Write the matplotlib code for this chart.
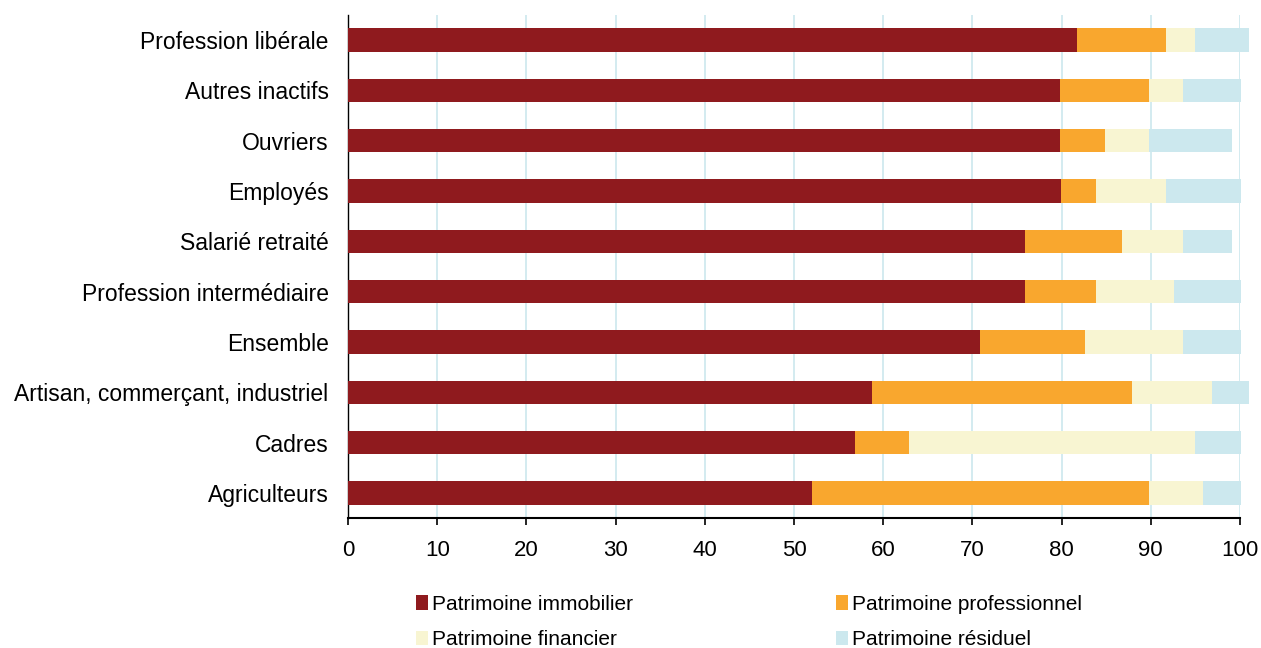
import matplotlib
matplotlib.use("Agg")
import matplotlib.pyplot as plt
import numpy as np

categories = ["Profession libérale", "Autres inactifs", "Ouvriers", "Employés",
              "Salarié retraité", "Profession intermédiaire", "Ensemble",
              "Artisan, commerçant, industriel", "Cadres", "Agriculteurs"]
immobilier = [81.7, 79.8, 79.8, 79.9, 75.9, 75.9, 70.8, 58.8, 56.8, 52.0]
professionnel = [10.0, 10.0, 5.1, 4.0, 10.9, 8.0, 11.8, 29.1, 6.1, 37.8]
financier = [3.2, 3.8, 4.9, 7.8, 6.8, 8.7, 11.0, 9.0, 32.0, 6.1]
residuel = [6.1, 6.5, 9.3, 8.4, 5.5, 7.5, 6.5, 4.1, 5.2, 4.2]
series_names = ["Patrimoine immobilier", "Patrimoine professionnel",
                "Patrimoine financier", "Patrimoine résiduel"]
colors = ["#8f1a1e", "#f9a72e", "#f8f5d2", "#cce8ee"]
xticks = [0, 10, 20, 30, 40, 50, 60, 70, 80, 90, 100]

plt.rcParams['font.family'] = ['Liberation Sans', 'DejaVu Sans']

fig = plt.figure(figsize=(12.61, 6.48), dpi=100)
ax = fig.add_axes([348/1261, 1-518/648, (1240-348)/1261, (518-15)/648])

y = np.arange(len(categories))
left = np.zeros(len(categories))
handles = []
for vals, c, name in zip([immobilier, professionnel, financier, residuel], colors, series_names):
    b = ax.barh(y, vals, left=left, color=c, height=0.465, label=name, clip_on=False, zorder=3)
    handles.append(b)
    left = left + np.array(vals)

ax.set_ylim(len(categories) - 0.5, -0.5)
ax.set_xlim(0, 100)
ax.set_yticks(y)
ax.set_yticklabels(categories, fontsize=16.5)
ax.set_xticks(xticks)
ax.set_xticklabels([str(t) for t in xticks], fontsize=16)
ax.tick_params(axis='y', length=0, pad=14)
ax.tick_params(axis='x', length=5, width=1.2, pad=11, direction='out')
ax.grid(axis='x', color='#cce8ee', linewidth=1.2, zorder=0)
ax.set_axisbelow(True)
for s in ['top', 'right']:
    ax.spines[s].set_visible(False)
ax.spines['bottom'].set_linewidth(1.5)
ax.spines['left'].set_linewidth(1.0)

order = [0, 2, 1, 3]
fig.legend([handles[i] for i in order], [series_names[i] for i in order],
           ncol=2, loc='upper left', bbox_to_anchor=(397/1261, 1-576/648),
           frameon=False, fontsize=15, handlelength=0.6, handleheight=0.7,
           handletextpad=0.2, columnspacing=9.7, labelspacing=0.8)

fig.savefig("out.png", dpi=100)
